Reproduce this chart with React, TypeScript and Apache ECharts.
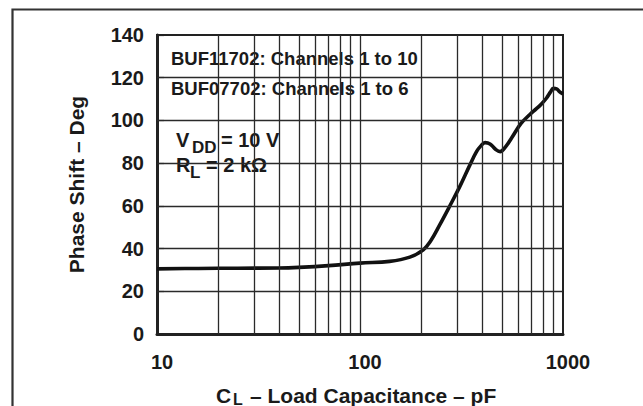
import React, { useEffect, useRef } from "react";
import * as echarts from "echarts";

// Load capacitance (pF) and phase shift (deg)
const capacitance = [10, 16, 25, 40, 50, 70, 100, 140, 176, 205, 222, 247, 276, 310, 348, 375, 395, 413, 437, 465, 490, 520, 560, 620, 687, 740, 781, 830, 870, 896, 930, 960, 1000];
const phaseShift = [30.5, 30.7, 30.8, 30.9, 31.2, 32, 33.2, 34, 36, 39.4, 43.3, 51.1, 59.7, 69, 79.2, 85.4, 88.2, 89.6, 89, 86.5, 85.4, 87.5, 92, 98.5, 102.8, 105.5, 107.6, 110.5, 113.5, 115, 114.8, 113.5, 112.4];

// Grid lines
const xGridValues = [20, 30, 40, 50, 60, 70, 80, 90, 100, 200, 300, 400, 500, 600, 700, 800, 900];
const yGridValues = [20, 40, 60, 80, 100, 120];
const yTicks = [0, 20, 40, 60, 80, 100, 120, 140];

const legendLines = ["BUF11702: Channels 1 to 10", "BUF07702: Channels 1 to 6"];

const FONT = '"Liberation Sans", Arial, Helvetica, sans-serif';
const INK = "#1a1a1a";

function txt(text: string, x: number, y: number, size: number, align = "left") {
  return {
    type: "text",
    x,
    y,
    z: 5,
    silent: true,
    style: {
      text,
      fill: INK,
      font: `bold ${size}px ${FONT}`,
      align,
      verticalAlign: "middle",
      textAlign: align,
      textVerticalAlign: "middle",
    },
  };
}

export default function App() {
  const ref = useRef<HTMLDivElement>(null);
  useEffect(() => {
    if (!ref.current) return;
    const chart = echarts.init(ref.current, null, { renderer: "svg" });
    const gridLineData: any[] = [
      ...xGridValues.map((v) => ({ xAxis: v })),
      ...yGridValues.map((v) => ({ yAxis: v })),
    ];
    chart.setOption({
      animation: false,
      backgroundColor: "#ffffff",
      grid: {
        left: 157,
        right: 80,
        top: 35,
        bottom: 72,
        show: true,
        borderColor: "#222",
        borderWidth: 2,
        backgroundColor: "transparent",
      },
      xAxis: {
        type: "log",
        logBase: 10,
        min: 10,
        max: 1000,
        z: 3,
        axisLine: { show: true, onZero: false, lineStyle: { color: "#222", width: 3 } },
        axisTick: { show: false },
        splitLine: { show: false },
        minorSplitLine: { show: false },
        axisLabel: {
          color: INK,
          fontFamily: FONT,
          fontWeight: "bold",
          fontSize: 20,
          margin: 18,
          padding: [0, 0, 0, 10],
          formatter: (v: number) => String(Math.round(v)),
        },
      },
      yAxis: {
        type: "value",
        min: 0,
        max: 140,
        interval: 20,
        z: 3,
        axisLine: { show: true, lineStyle: { color: "#222", width: 3 } },
        axisTick: { show: true, inside: true, length: 7, lineStyle: { color: "#222", width: 1.2 } },
        splitLine: { show: false },
        axisLabel: {
          color: INK,
          fontFamily: FONT,
          fontWeight: "bold",
          fontSize: 20,
          margin: 13,
          formatter: (v: number) => (yTicks.includes(v) ? String(v) : ""),
        },
        name: "Phase Shift – Deg",
        nameLocation: "middle",
        nameGap: 70,
        nameTextStyle: { color: INK, fontFamily: FONT, fontWeight: "bold", fontSize: 21 },
      },
      graphic: [
        // outer frame
        {
          type: "polyline",
          z: 5,
          silent: true,
          shape: { points: [[12.5, 406], [12.5, 9.5], [643, 9.5]] },
          style: { stroke: "#333", lineWidth: 2.2, fill: "none" },
        },
        // white boxes behind annotations
        { type: "rect", z: 2, silent: true, shape: { x: 158.6, y: 43, width: 277, height: 61 }, style: { fill: "#fff" } },
        { type: "rect", z: 2, silent: true, shape: { x: 158.6, y: 121, width: 151, height: 61 }, style: { fill: "#fff" } },
        txt(legendLines[0], 171, 58, 18.5),
        txt(legendLines[1], 171, 88, 18.5),
        txt("V", 176, 140, 20),
        txt("DD", 192, 147, 17),
        txt("= 10 V", 221, 140, 20),
        txt("R", 176, 165, 20),
        txt("L", 190, 172, 17),
        txt("= 2 kΩ", 206, 165, 20),
        // x axis title
        txt("C", 216, 395, 21),
        txt("L", 233, 399, 16),
        txt("– Load Capacitance – pF", 250, 395, 21),
      ],
      series: [
        {
          type: "line",
          data: [],
          z: 1,
          silent: true,
          markLine: {
            silent: true,
            symbol: ["none", "none"],
            label: { show: false },
            lineStyle: { color: "#2a2a2a", width: 1.3, type: "solid" },
            emphasis: { disabled: true },
            data: gridLineData,
          },
        },
        {
          type: "line",
          z: 4,
          data: capacitance.map((c, i) => [c, phaseShift[i]]),
          smooth: 0.4,
          symbol: "none",
          silent: true,
          lineStyle: { color: "#111", width: 3.6 },
        },
      ],
    });
    return () => chart.dispose();
  }, []);
  return (
    <div
      ref={ref}
      style={{ position: "absolute", left: 0, top: 0, width: 643, height: 406, background: "#fff" }}
    />
  );
}
